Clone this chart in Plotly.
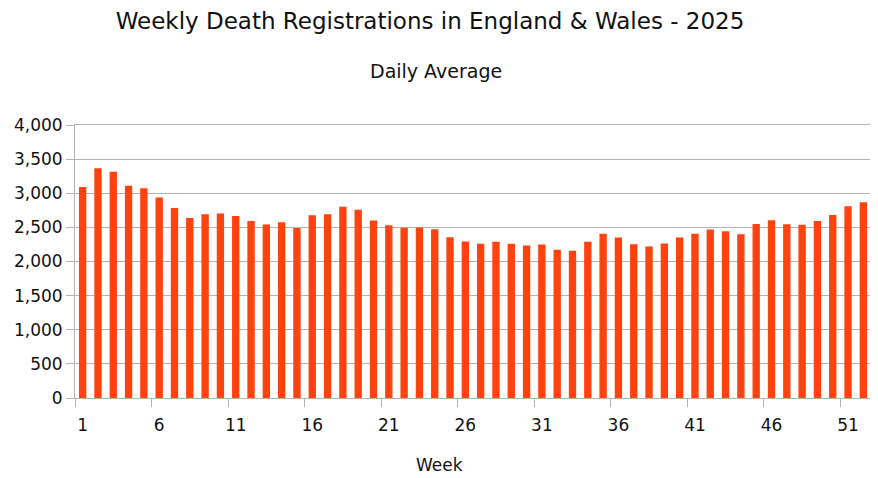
import plotly.graph_objects as go

# Weekly death registrations, England & Wales 2025 (daily average per week)
weeks = list(range(1, 53))
daily_avg = [
    3090, 3365, 3316, 3111, 3073, 2936, 2785, 2639, 2693, 2702,
    2668, 2595, 2541, 2576, 2490, 2678, 2693, 2804, 2760, 2600,
    2532, 2493, 2497, 2474, 2357, 2292, 2259, 2288, 2259, 2234,
    2249, 2171, 2156, 2288, 2405, 2351, 2254, 2219, 2263, 2351,
    2405, 2468, 2444, 2400, 2551, 2605, 2547, 2537, 2595, 2683,
    2810, 2868,
]
week_labels = [1, 6, 11, 16, 21, 26, 31, 36, 41, 46, 51]
week_bounds = [w - 0.5 for w in week_labels]
y_ticks = [0, 500, 1000, 1500, 2000, 2500, 3000, 3500, 4000]

bar_color = "#ff420e"
grid_color = "#b3b3b3"
font_family = "DejaVu Sans"
text_color = "#111111"

# the page body has an 8px margin, so the figure is a bit smaller than the window
fig_w, fig_h = 870, 470

fig = go.Figure()

fig.add_trace(go.Bar(
    x=weeks,
    y=daily_avg,
    marker_color=bar_color,
    marker_line_width=0,
))

x_range = [0.5, 52.5]

fig.update_layout(
    width=fig_w,
    height=fig_h,
    margin=dict(l=63, r=6, t=117, b=80),
    paper_bgcolor="white",
    plot_bgcolor="white",
    showlegend=False,
    bargap=0.52,
    font=dict(family=font_family, color=text_color),
    title=dict(
        text="Weekly Death Registrations in England & Wales - 2025",
        x=(430 - 8) / fig_w, xanchor="center",
        y=1 - 12.5 / fig_h, yanchor="middle",
        font=dict(size=23, family=font_family, color=text_color),
    ),
    xaxis=dict(
        range=x_range,
        tickmode="array",
        tickvals=week_labels,
        ticktext=[str(w) for w in week_labels],
        ticks="outside",
        ticklen=12,
        tickcolor="rgba(0,0,0,0)",
        showgrid=False,
        zeroline=False,
        showline=True,
        linecolor=grid_color,
        linewidth=1,
        mirror=True,
        tickfont=dict(size=17, family=font_family, color=text_color),
    ),
    # second axis only carries the tick marks at the category boundaries
    xaxis2=dict(
        overlaying="x",
        side="bottom",
        range=x_range,
        tickmode="array",
        tickvals=week_bounds,
        ticks="outside",
        ticklen=8,
        tickcolor=grid_color,
        showticklabels=False,
        showgrid=False,
        zeroline=False,
        showline=False,
    ),
    yaxis=dict(
        range=[0, 4000],
        tickmode="array",
        tickvals=y_ticks,
        tickformat=",",
        ticks="outside",
        ticklen=8,
        tickcolor=grid_color,
        showgrid=True,
        gridcolor=grid_color,
        gridwidth=1,
        zeroline=False,
        showline=True,
        linecolor=grid_color,
        linewidth=1,
        mirror=True,
        tickfont=dict(size=17, family=font_family, color=text_color),
    ),
    annotations=[
        dict(
            text="Daily Average",
            xref="paper", yref="paper",
            x=(434.5 - 71) / 801, y=1.1996,
            xanchor="center", yanchor="middle",
            showarrow=False,
            font=dict(size=19, family=font_family, color=text_color),
        ),
        dict(
            text="Week",
            xref="paper", yref="paper",
            x=(438 - 71) / 801, y=-0.2436,
            xanchor="center", yanchor="middle",
            showarrow=False,
            font=dict(size=17, family=font_family, color=text_color),
        ),
    ],
)

# dummy trace so the overlay axis is rendered
fig.add_trace(go.Scatter(
    x=[None], y=[None], xaxis="x2", yaxis="y",
    mode="markers", hoverinfo="skip", showlegend=False,
))

fig.write_html("out.html")
